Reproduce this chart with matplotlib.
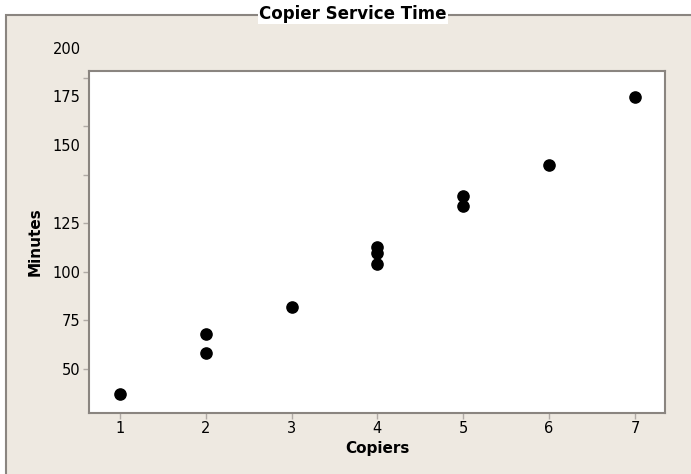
import matplotlib
matplotlib.use("Agg")
import matplotlib.pyplot as plt
from matplotlib.patches import Rectangle
from matplotlib.transforms import ScaledTranslation

# copiers serviced vs minutes taken
copiers = [1, 2, 2, 3, 4, 4, 4, 5, 5, 6, 7]
minutes = [37, 68, 58, 82, 113, 110, 104, 139, 134, 155, 190]

y_ticks = [50, 75, 100, 125, 150, 175, 200]
x_ticks = [1, 2, 3, 4, 5, 6, 7]

bg = "#eee9e1"
edge = "#8a8580"

fig = plt.figure(figsize=(6.91, 4.74), dpi=100)
fig.patch.set_facecolor("white")

# outer panel of the graph window
W, H = 691, 474
fig.patches.append(Rectangle((6 / W, -0.02), 1.1, (H - 15) / H + 0.02, transform=fig.transFigure,
                             facecolor=bg, edgecolor=edge, linewidth=1.5, zorder=-5))

ax = fig.add_axes([89 / W, (H - 413) / H, (665 - 89) / W, (413 - 71) / H])
ax.set_facecolor("white")
ax.scatter(copiers, minutes, s=65, color="black", zorder=3)

ax.set_xlim(0.64, 7.35)
ax.set_ylim(27.3, 203.6)
ax.set_xticks(x_ticks)
ax.set_yticks(y_ticks)
ax.set_yticklabels([str(v) for v in y_ticks])

for s in ax.spines.values():
    s.set_color(edge)
    s.set_linewidth(1.5)
ax.tick_params(direction="out", length=4, width=1, color="#b0aaa5",
               labelsize=10.5, labelcolor="black", pad=2)

ax.set_xlabel("Copiers", fontsize=11, fontweight="bold", labelpad=3)
ax.set_ylabel("Minutes", fontsize=11, fontweight="bold", labelpad=7)

fig.text(353 / W, 1 - 14 / H, "Copier Service Time", ha="center", va="center",
         fontsize=12, fontweight="bold",
         bbox=dict(facecolor="white", edgecolor="none", pad=1))

fig.canvas.draw()
# upper labels sit above their ticks in the original
for tick in ax.yaxis.get_major_ticks():
    if tick.get_loc() >= 150:
        lab = tick.label1
        lab.set_transform(lab.get_transform() + ScaledTranslation(0, 0.30, fig.dpi_scale_trans))

fig.savefig("out.png", dpi=100, facecolor=fig.get_facecolor())
